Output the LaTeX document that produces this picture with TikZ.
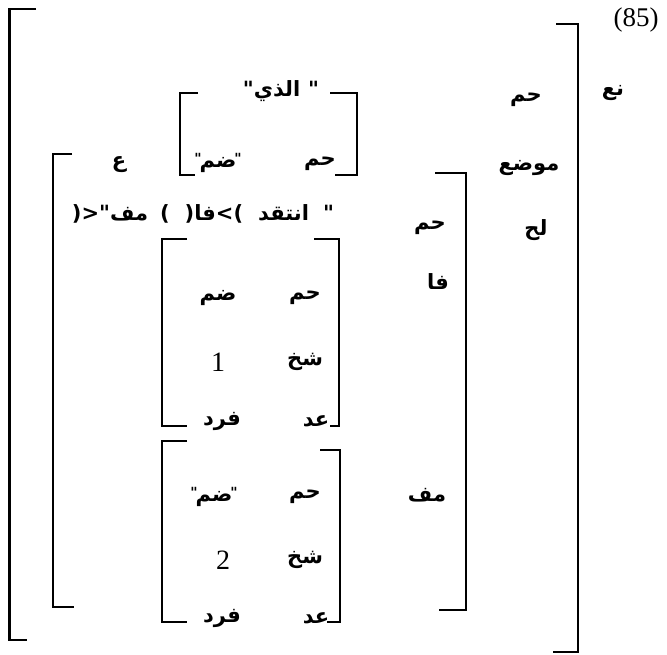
\documentclass[tikz,border=0pt]{standalone}
\usepackage{fontspec}
\setmainfont{Liberation Serif}
\newfontfamily\arabicfont[Script=Arabic]{DejaVu Sans}
\TeXXeTstate=1
% small raised quote mark used round the value "ضم"
\newcommand\qmark{\raisebox{4pt}{\fontsize{14}{15}\selectfont"}}
\begin{document}
\begin{tikzpicture}[x=1pt,y=-1pt,
  brk/.style={line width=2.8pt,line join=miter},
  ibrk/.style={line width=2.3pt,line join=miter},
  ar/.style={font=\arabicfont\bfseries\fontsize{21}{25}\selectfont,inner sep=0pt},
  num/.style={font=\fontsize{28}{30}\selectfont,inner sep=0pt}]
\useasboundingbox (0,0) rectangle (667,655);

% outer structure
\draw[brk] (36,9) -- (9.5,9) -- (9.5,640) -- (27,640);
\draw[brk] (556,24) -- (578,24) -- (578,652) -- (553,652);
\node[font=\fontsize{27}{29}\selectfont,inner sep=0pt] (label) at (636,20) {(85)};
\node[ar] (type) at (613,93) {نع};
\node[ar] (fhead) at (526,100) {حم};
\node[ar] (fpos) at (529,168) {موضع};
\node[ar] (fsub) at (536,230) {لح};

% value of the head feature (pieces set left to right as printed)
\draw[ibrk] (198,93) -- (180,93) -- (180,175) -- (195,175);
\draw[ibrk] (330,93) -- (357,93) -- (357,175) -- (335,175);
\node[ar] (alladhi) at (281,91) {\hbox{"}\hbox{الذي}\hskip8pt\hbox{"}};
\node[ar] (sh) at (320,164) {حم};
\node[ar] (sv) at (218,163) {\hbox{\qmark}\kern-2pt\hbox{ضم}\kern-2pt\hbox{\qmark}};

% subcategorisation value
\draw[brk] (72,154) -- (53,154) -- (53,607) -- (74,607);
\draw[ibrk] (435,173) -- (466,173) -- (466,610) -- (439,610);
\node[ar] (ain) at (119,165) {ع};
\node[ar] (frame) at (203,214)
  {\hbox{"<(}\hbox{مف}\hskip12pt\hbox{)}\hskip15pt\hbox{(}\hbox{فا}\hbox{)>}\hskip15pt\hbox{انتقد}\hskip14pt\hbox{"}};
\node[ar] (mh) at (430,228) {حم};
\node[ar] (fa) at (438,282) {فا};
\node[ar] (mf) at (427,495) {مف};

% first argument
\draw[ibrk] (187,239) -- (162,239) -- (162,426) -- (187,426);
\draw[ibrk] (314,239) -- (339,239) -- (339,426) -- (330,426);
\node[ar] (ah) at (305,298) {حم};
\node[ar] (av) at (218,298) {ضم};
\node[ar] (ap) at (305,362) {شخ};
\node[num] (an) at (218,362) {1};
\node[ar] (ac) at (316,421) {عد};
\node[ar] (acv) at (222,421) {فرد};

% second argument
\draw[ibrk] (187,441) -- (162,441) -- (162,622) -- (187,622);
\draw[ibrk] (320,450) -- (340,450) -- (340,622) -- (327,622);
\node[ar] (bh) at (305,497) {حم};
\node[ar] (bv) at (214,497) {\hbox{\qmark}\kern-2pt\hbox{ضم}\kern-2pt\hbox{\qmark}};
\node[ar] (bp) at (305,560) {شخ};
\node[num] (bn) at (223,560) {2};
\node[ar] (bc) at (316,618) {عد};
\node[ar] (bcv) at (222,618) {فرد};
\end{tikzpicture}
\end{document}
